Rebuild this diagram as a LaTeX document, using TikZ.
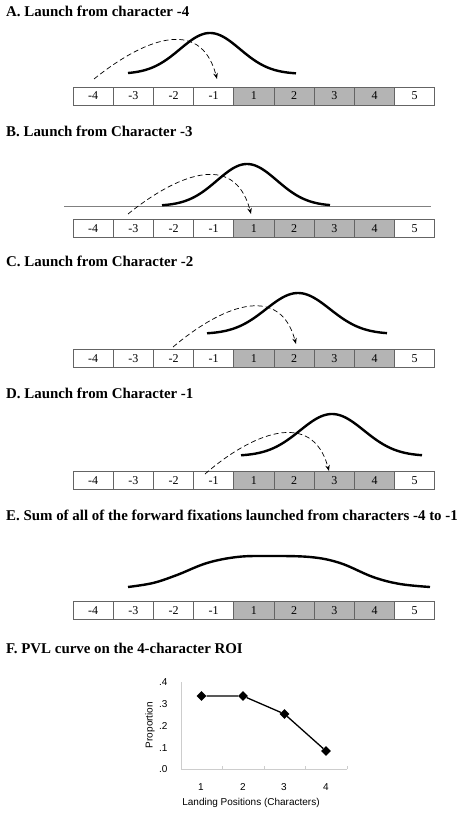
\documentclass[tikz,border=0pt]{standalone}
\usepackage{fontspec}
\setmainfont{Liberation Serif}
\setsansfont{Liberation Sans}
\usetikzlibrary{arrows.meta,shapes.geometric}
\definecolor{roigray}{RGB}{180,180,180}
\definecolor{cellline}{RGB}{100,100,100}
\definecolor{axisgray}{RGB}{205,205,205}
\begin{document}
\begin{tikzpicture}
			[x=1pt,y=-1pt,
			cell/.style={rectangle,draw=cellline,line width=0.7pt,fill=white,minimum width=40.2pt,minimum height=18pt,inner sep=0pt,font=\fontsize{12}{12}\selectfont},
			roi/.style={cell,fill=roigray},
			panel/.style={anchor=west,inner sep=0pt,font=\bfseries\fontsize{14.9}{16}\selectfont},
			bump/.style={line width=2.4pt},
			launch/.style={line width=0.7pt,dash pattern=on 5pt off 3pt,-{Stealth[length=6pt,width=4.5pt]}},
			groundline/.style={gray,line width=0.6pt},
			axis/.style={axisgray,line width=0.8pt},
			ticklabel/.style={font=\sffamily\fontsize{10}{10}\selectfont},
			datum/.style={diamond,fill=black,minimum size=10pt,inner sep=0pt}]
		\useasboundingbox (0,0) rectangle (463,813);
		% panel titles
		\path node (tA) at (6,11)  [panel] {A. Launch from character -4}
			  node (tB) at (6,131) [panel] {B. Launch from Character -3}
			  node (tC) at (6,261) [panel] {C. Launch from Character -2}
			  node (tD) at (6,393) [panel] {D. Launch from Character -1}
			  node (tE) at (6,515) [panel] {E. Sum of all of the forward fixations launched from characters -4 to -1}
			  node (tF) at (6,648) [panel] {F. PVL curve on the 4-character ROI};
		% A
		\path node (am4) at (93.1,96)  [cell] {-4}
			  node (am3) at (133.3,96) [cell] {-3}
			  node (am2) at (173.5,96) [cell] {-2}
			  node (am1) at (213.7,96) [cell] {-1}
			  node (a1)  at (253.9,96) [roi]  {1}
			  node (a2)  at (294.1,96) [roi]  {2}
			  node (a3)  at (334.3,96) [roi]  {3}
			  node (a4)  at (374.5,96) [roi]  {4}
			  node (a5)  at (414.7,96) [cell] {5};
		\draw[bump] plot[domain=128:296,samples=80,smooth] (\x,{74-41*exp(-(\x-210)*(\x-210)/1800)});
		\coordinate (launchA) at (94,79);
		\coordinate (landA) at (217,79);
		\draw[launch] (launchA) .. controls +(46,-37) and +(-17,-65) .. (landA);
		% B
		\draw[groundline] (64,206) -- (431,206);
		\path node (bm4) at (93.1,228.5)  [cell] {-4}
			  node (bm3) at (133.3,228.5) [cell] {-3}
			  node (bm2) at (173.5,228.5) [cell] {-2}
			  node (bm1) at (213.7,228.5) [cell] {-1}
			  node (b1)  at (253.9,228.5) [roi]  {1}
			  node (b2)  at (294.1,228.5) [roi]  {2}
			  node (b3)  at (334.3,228.5) [roi]  {3}
			  node (b4)  at (374.5,228.5) [roi]  {4}
			  node (b5)  at (414.7,228.5) [cell] {5};
		\draw[bump] plot[domain=162:330,samples=80,smooth] (\x,{206-42*exp(-(\x-247)*(\x-247)/1800)});
		\coordinate (launchB) at (128,214);
		\coordinate (landB) at (251,214);
		\draw[launch] (launchB) .. controls +(46,-37) and +(-17,-65) .. (landB);
		% C
		\path node (cm4) at (93.1,358.5)  [cell] {-4}
			  node (cm3) at (133.3,358.5) [cell] {-3}
			  node (cm2) at (173.5,358.5) [cell] {-2}
			  node (cm1) at (213.7,358.5) [cell] {-1}
			  node (c1)  at (253.9,358.5) [roi]  {1}
			  node (c2)  at (294.1,358.5) [roi]  {2}
			  node (c3)  at (334.3,358.5) [roi]  {3}
			  node (c4)  at (374.5,358.5) [roi]  {4}
			  node (c5)  at (414.7,358.5) [cell] {5};
		\draw[bump] plot[domain=207:387,samples=80,smooth] (\x,{334-41*exp(-(\x-298)*(\x-298)/2048)});
		\coordinate (launchC) at (173,347);
		\coordinate (landC) at (296,344);
		\draw[launch] (launchC) .. controls +(46,-39) and +(-17,-63) .. (landC);
		% D
		\path node (dm4) at (93.1,480.5)  [cell] {-4}
			  node (dm3) at (133.3,480.5) [cell] {-3}
			  node (dm2) at (173.5,480.5) [cell] {-2}
			  node (dm1) at (213.7,480.5) [cell] {-1}
			  node (d1)  at (253.9,480.5) [roi]  {1}
			  node (d2)  at (294.1,480.5) [roi]  {2}
			  node (d3)  at (334.3,480.5) [roi]  {3}
			  node (d4)  at (374.5,480.5) [roi]  {4}
			  node (d5)  at (414.7,480.5) [cell] {5};
		\draw[bump] plot[domain=241:422,samples=80,smooth] (\x,{456-42*exp(-(\x-332)*(\x-332)/2048)});
		\coordinate (launchD) at (205,474);
		\coordinate (landD) at (329,471);
		\draw[launch] (launchD) .. controls +(46,-40) and +(-17,-63) .. (landD);
		% E
		\path node (em4) at (93.1,610.5)  [cell] {-4}
			  node (em3) at (133.3,610.5) [cell] {-3}
			  node (em2) at (173.5,610.5) [cell] {-2}
			  node (em1) at (213.7,610.5) [cell] {-1}
			  node (e1)  at (253.9,610.5) [roi]  {1}
			  node (e2)  at (294.1,610.5) [roi]  {2}
			  node (e3)  at (334.3,610.5) [roi]  {3}
			  node (e4)  at (374.5,610.5) [roi]  {4}
			  node (e5)  at (414.7,610.5) [cell] {5};
		\draw[bump] plot[smooth,tension=0.6] coordinates {(128,587) (153,583) (177,575) (207,563) (237,557) (267,556) (310,557) (340,563) (373,577) (400,584) (430,587)};
		% F
		\draw[axis] (181,682) -- (181,769) -- (347,769);
		\draw[axis] (222,769) -- (222,766) (264,769) -- (264,766) (305,769) -- (305,766) (347,769) -- (347,766);
		\path node at (171,682) [ticklabel,anchor=east] {.4}
			  node at (171,704) [ticklabel,anchor=east] {.3}
			  node at (171,726) [ticklabel,anchor=east] {.2}
			  node at (171,748) [ticklabel,anchor=east] {.1}
			  node at (171,769) [ticklabel,anchor=east] {.0}
			  node at (201,787) [ticklabel] {1}
			  node at (243,787) [ticklabel] {2}
			  node at (284,787) [ticklabel] {3}
			  node at (326,787) [ticklabel] {4}
			  node (xlab) at (251,803) [ticklabel] {Landing Positions (Characters)}
			  node (ylab) at (150,725) [ticklabel,rotate=90] {Proportion};
		\path node (p1) at (201.5,696) [datum] {}
			  node (p2) at (243,696)   [datum] {}
			  node (p3) at (284.5,714) [datum] {}
			  node (p4) at (326,751)   [datum] {};
		\draw[line width=1.3pt] (p1) -- (p2) -- (p3) -- (p4);
		\end{tikzpicture}
\end{document}
